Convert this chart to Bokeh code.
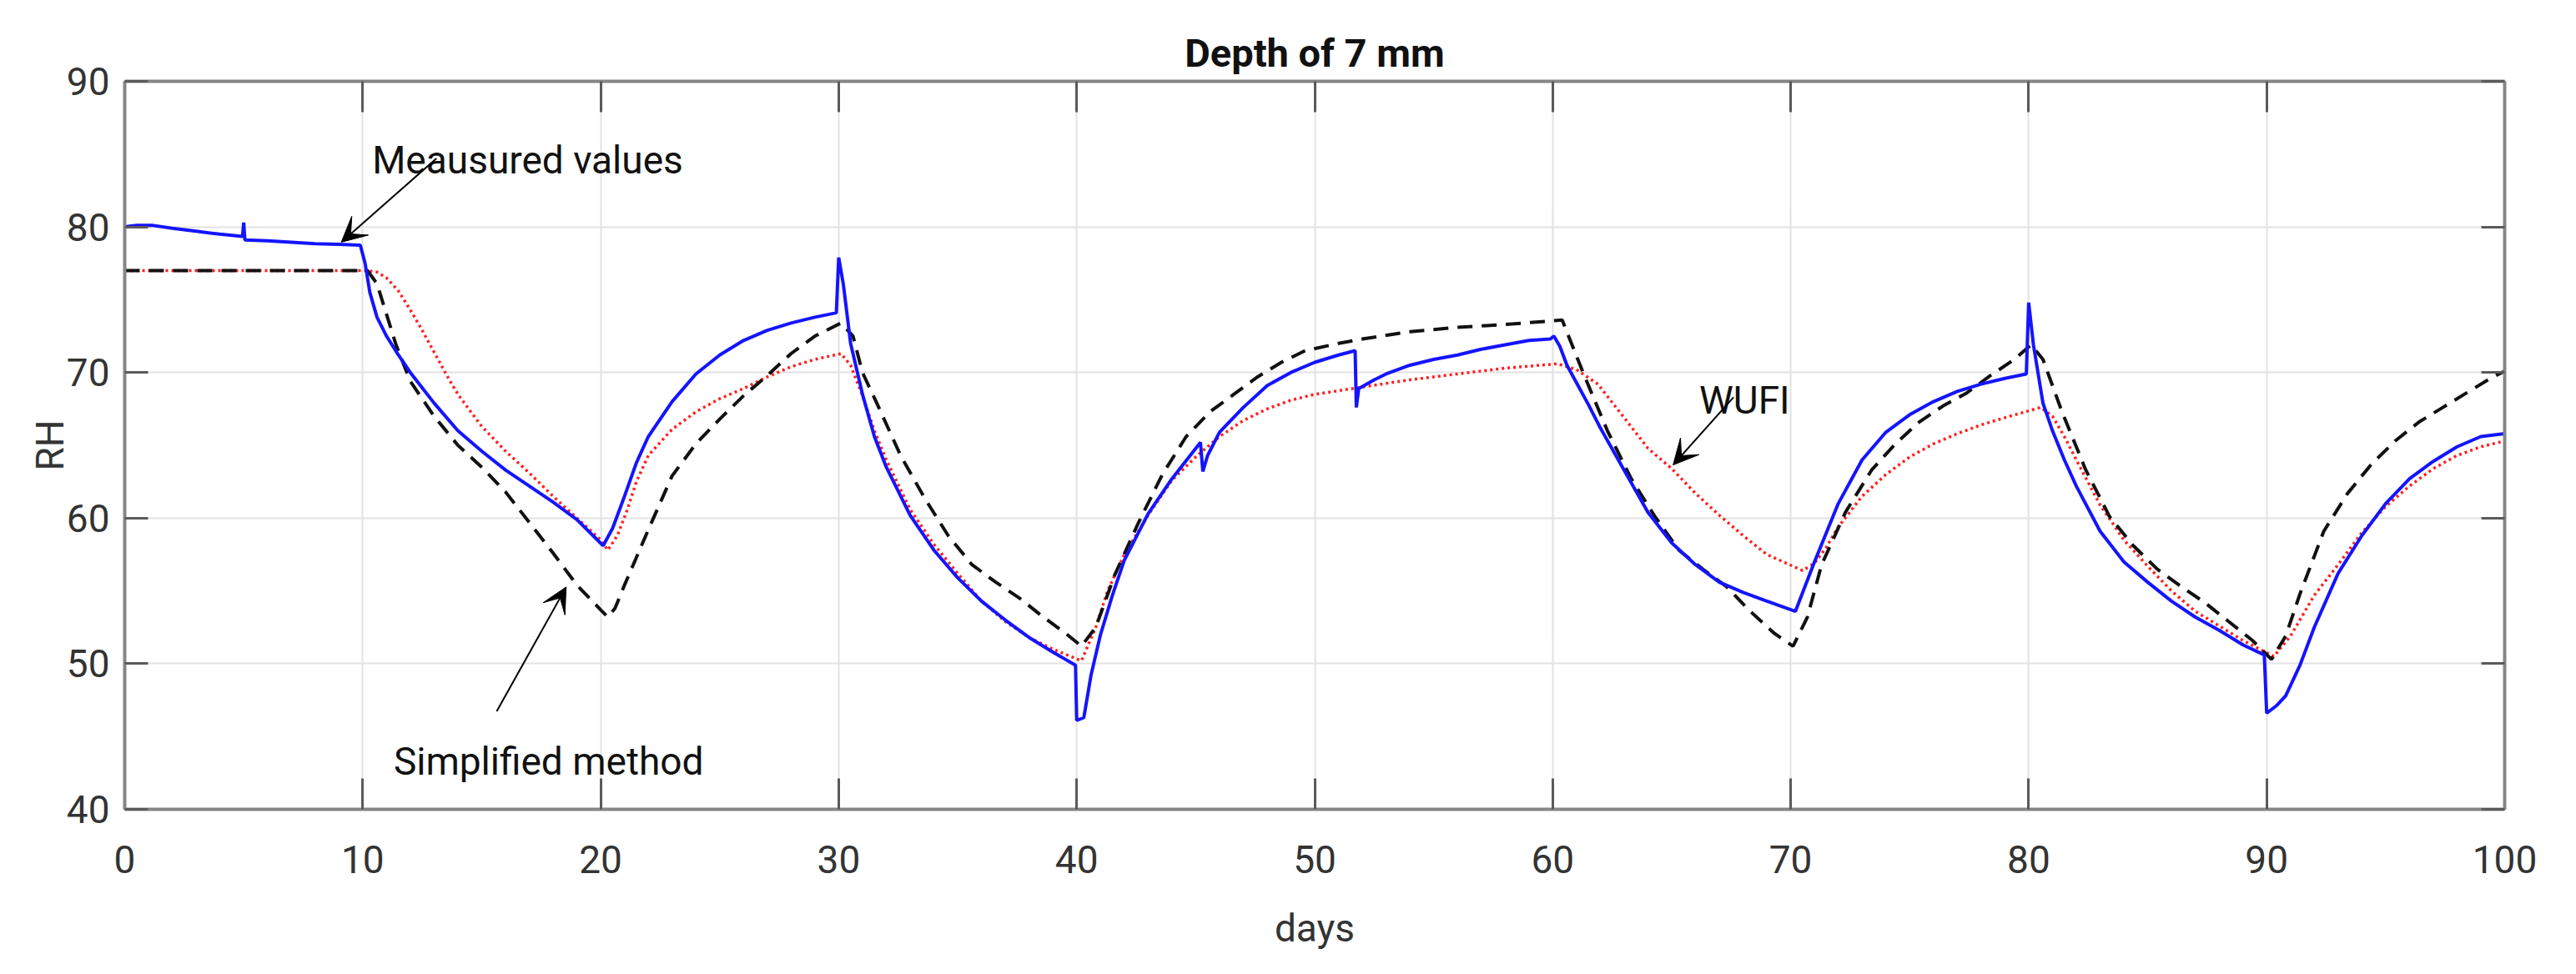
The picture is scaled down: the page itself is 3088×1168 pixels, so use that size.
from bokeh.plotting import figure
from bokeh.models import (Range1d, FixedTicker, LinearAxis, CustomJSTickFormatter,
                          Label, Arrow, VeeHead)
from bokeh.embed import file_html
from bokeh.resources import INLINE

# ---------------- data ----------------
days_measured = [0, 0.5, 1.2, 2, 3, 4, 4.95, 5.0, 5.05, 6, 7, 8, 9, 9.9,
                 10.1, 10.3, 10.6, 11, 11.5, 12, 13, 14, 15, 16, 17, 18, 19, 19.8,
                 20.1, 20.5, 21, 21.5, 22, 23, 24, 25, 26, 27, 28, 29, 29.9,
                 30.0, 30.2, 30.5, 31, 31.5, 32, 33, 34, 35, 36, 37, 38, 39, 39.95,
                 40.0, 40.3, 40.6, 41, 41.5, 42, 43, 44, 45.2, 45.3, 45.5, 46, 47,
                 48, 49, 50, 51, 51.7, 51.75, 51.85, 52.5, 53, 54, 55, 56, 57, 58,
                 59, 59.9, 60.05, 60.3, 60.6, 61, 61.5, 62, 63, 64, 65, 66, 67, 68,
                 69, 70.2, 71, 71.5, 72, 73, 74, 75, 76, 77, 78, 79, 79.9,
                 80.0, 80.2, 80.6, 81, 81.5, 82, 83, 84, 85, 86, 87, 88, 89, 89.9,
                 90.0, 90.4, 90.8, 91.4, 92, 93, 94, 95, 96, 97, 98, 99, 100]
rh_measured = [80.0, 80.1, 80.1, 79.9, 79.7, 79.5, 79.35, 80.3, 79.1, 79.05, 78.95, 78.85, 78.8, 78.75,
               77.5, 75.5, 73.8, 72.5, 71.2, 70.0, 67.9, 66.0, 64.6, 63.3, 62.2, 61.1, 59.9, 58.6,
               58.1, 59.3, 61.5, 63.8, 65.6, 68.0, 69.9, 71.2, 72.2, 72.9, 73.4, 73.8, 74.1,
               77.9, 76.0, 72.0, 68.5, 65.6, 63.5, 60.2, 57.8, 55.9, 54.3, 53.0, 51.8, 50.8, 49.9,
               46.1, 46.3, 49.2, 52.0, 54.7, 57.1, 60.3, 62.7, 65.2, 63.2, 64.3, 65.9, 67.6,
               69.1, 70.0, 70.7, 71.2, 71.5, 67.6, 68.9, 69.5, 69.9, 70.5, 70.9, 71.2, 71.6, 71.9,
               72.2, 72.3, 72.5, 71.8, 70.5, 69.3, 67.8, 66.2, 63.3, 60.4, 58.3, 56.8, 55.6, 54.9,
               54.3, 53.6, 57.0, 59.0, 61.0, 64.0, 65.9, 67.1, 68.0, 68.7, 69.2, 69.6, 69.9,
               74.8, 71.9, 67.9, 66.0, 64.0, 62.2, 59.1, 57.0, 55.6, 54.3, 53.2, 52.3, 51.3, 50.6,
               46.6, 47.1, 47.8, 49.9, 52.5, 56.2, 58.8, 61.0, 62.7, 63.9, 64.9, 65.6, 65.8]

days_wufi = [0, 10.2, 10.6, 11, 11.5, 12, 12.5, 13, 13.5, 14, 15, 16, 17, 18, 19, 20, 20.3,
             20.7, 21.1, 21.5, 22, 23, 24, 25, 26, 27, 28, 29, 30.1, 30.5, 31, 31.5, 32, 33,
             34, 35, 36, 37, 38, 39, 40.2, 40.8, 41.3, 42, 43, 44, 45, 46, 47, 48, 49, 50,
             52, 54, 56, 58, 60.2, 61, 61.9, 63, 64, 65, 66, 67, 68, 69, 70.5, 71, 71.5, 72,
             73, 74, 75, 76, 77, 78, 79, 80.5, 81, 81.5, 82, 83, 84, 85, 86, 87, 88, 89, 90.3,
             91, 91.5, 92, 93, 94, 95, 96, 97, 98, 99, 100]
rh_wufi = [77.0, 77.0, 76.9, 76.5, 75.6, 74.3, 72.9, 71.4, 69.9, 68.5, 66.3, 64.6, 63.1, 61.5, 60.0, 58.5, 57.8,
           58.8, 60.5, 62.5, 64.3, 66.1, 67.3, 68.2, 68.9, 69.7, 70.4, 70.9, 71.3, 70.5, 68.4, 66.0, 64.0, 60.6,
           58.2, 56.2, 54.3, 52.9, 51.8, 51.0, 50.2, 52.5, 55.0, 57.5, 60.2, 62.6, 64.2, 65.6, 66.7, 67.5, 68.1, 68.5,
           69.0, 69.5, 69.9, 70.3, 70.6, 70.2, 69.2, 66.9, 64.8, 63.4, 61.7, 60.2, 58.8, 57.5, 56.4, 56.9, 58.0, 59.4,
           61.5, 63.0, 64.2, 65.1, 65.8, 66.4, 66.9, 67.6, 67.0, 65.6, 64.0, 60.9, 58.5, 56.7, 55.0, 53.6, 52.6, 51.6, 50.5,
           51.9, 53.3, 54.7, 56.8, 59.0, 60.8, 62.2, 63.4, 64.3, 64.9, 65.3]

days_simplified = [0, 10.2, 10.6, 11, 11.4, 12, 13, 14, 15, 16, 17, 18, 19, 20, 20.3, 20.6, 21,
                   21.5, 22, 23, 24, 25, 26, 27, 28, 29, 30.1, 30.6, 31, 31.6, 32.6, 33.6, 34.6,
                   35.6, 36.6, 37.6, 38.6, 39.6, 40.2, 40.8, 41.6, 42.6, 43.6, 44.6, 45.6, 46.6,
                   47.6, 48.6, 49.6, 51, 52, 54, 56, 58, 60.4, 61.3, 62.3, 63.3, 64.3, 65.3, 66.3,
                   67.3, 68.3, 69.3, 70.1, 70.7, 71.3, 72.3, 73.4, 74.4, 75.4, 76.4, 77.4, 78.4,
                   79.4, 80.1, 80.6, 81.4, 82.4, 83.4, 84.4, 85.4, 86.4, 87.4, 88.4, 89.4, 90.2,
                   90.8, 91.4, 92.4, 93.4, 94.4, 95.4, 96.4, 97.4, 98.4, 99.4, 100]
rh_simplified = [77.0, 77.0, 76.1, 74.0, 71.9, 69.4, 67.0, 65.0, 63.5, 61.8, 59.7, 57.6, 55.4, 53.7, 53.2, 53.8, 55.4,
                 57.3, 59.2, 62.9, 65.1, 66.8, 68.4, 69.8, 71.3, 72.5, 73.4, 72.5, 70.0, 67.9, 64.3, 61.4, 58.8,
                 56.8, 55.6, 54.5, 53.2, 52.0, 51.2, 52.5, 56.1, 59.7, 63.0, 65.6, 67.3, 68.5,
                 69.7, 70.7, 71.5, 72.0, 72.3, 72.8, 73.1, 73.3, 73.6, 69.9, 66.0, 62.7, 60.1, 57.8, 56.5,
                 55.3, 53.6, 52.1, 51.2, 53.2, 56.8, 60.4, 63.3, 65.1, 66.6, 67.7, 68.6, 69.8,
                 70.9, 71.9, 70.9, 67.3, 63.3, 60.1, 58.1, 56.5, 55.3, 54.2, 52.9, 51.6, 50.3,
                 51.9, 54.8, 59.1, 61.7, 63.7, 65.3, 66.6, 67.6, 68.6, 69.6, 70.1]

x_ticks = [0, 10, 20, 30, 40, 50, 60, 70, 80, 90, 100]
y_ticks = [40, 50, 60, 70, 80, 90]

title_text = "Depth of 7 mm"
x_label = "days"
y_label = "RH"

# ---------------- styling ----------------
FONT = "Roboto"
FS = "46px"
AXIS_GRAY = "#868686"
TICK_GRAY = "#5a5a5a"
LABEL_GRAY = "#333333"

p = figure(width=3072, height=1152, output_backend="svg", toolbar_location=None,
           x_range=Range1d(0, 100), y_range=Range1d(40, 90),
           min_border_left=149, min_border_right=70, min_border_top=97, min_border_bottom=182,
           title=title_text)
p.background_fill_color = "white"
p.border_fill_color = "white"
p.outline_line_color = None

p.title.text_font = FONT
p.title.text_font_size = "47px"
p.title.text_font_style = "bold"
p.title.text_color = "#111111"
p.title.align = "center"
p.title.standoff = 14

xt = FixedTicker(ticks=x_ticks)
yt = FixedTicker(ticks=y_ticks)

for ax in p.xaxis:
    ax.ticker = xt
    ax.axis_label = x_label
for ax in p.yaxis:
    ax.ticker = yt
    ax.axis_label = y_label

def style_axis(ax, tick_in):
    ax.axis_line_color = AXIS_GRAY
    ax.axis_line_width = 4
    ax.major_tick_line_color = TICK_GRAY
    ax.major_tick_line_width = 3
    ax.major_tick_in = tick_in
    ax.major_tick_out = 0
    ax.minor_tick_line_color = None
    ax.major_label_text_font = FONT
    ax.major_label_text_font_size = FS
    ax.major_label_text_color = LABEL_GRAY
    ax.axis_label_text_font = FONT
    ax.axis_label_text_font_size = FS
    ax.axis_label_text_font_style = "normal"
    ax.axis_label_text_color = LABEL_GRAY

for ax in p.xaxis:
    style_axis(ax, 37)
    ax.major_label_standoff = 43
    ax.axis_label_standoff = 36
for ax in p.yaxis:
    style_axis(ax, 28)
    ax.major_label_standoff = 18
    ax.axis_label_standoff = -10

empty = CustomJSTickFormatter(code="return ''")
top_axis = LinearAxis(ticker=FixedTicker(ticks=x_ticks), formatter=empty)
style_axis(top_axis, 37)
top_axis.major_label_text_font_size = "1px"
top_axis.major_label_standoff = 0
p.add_layout(top_axis, "above")
right_axis = LinearAxis(ticker=FixedTicker(ticks=y_ticks), formatter=empty)
style_axis(right_axis, 28)
right_axis.major_label_text_font_size = "1px"
right_axis.major_label_standoff = 0
p.add_layout(right_axis, "right")

p.xgrid.ticker = xt
p.ygrid.ticker = yt
for g in (p.xgrid, p.ygrid):
    g.grid_line_color = "#e2e2e2"
    g.grid_line_width = 2

# ---------------- series ----------------
p.line(days_wufi, rh_wufi, line_color="#ff2020", line_width=3.5, line_dash="3 4")
p.line(days_simplified, rh_simplified, line_color="#111111", line_width=4, line_dash="18 11")
p.line(days_measured, rh_measured, line_color="#1414ff", line_width=4)

# ---------------- annotations ----------------
def note(x, y, txt):
    p.add_layout(Label(x=x, y=y, text=txt, text_font=FONT, text_font_size=FS,
                       text_color="#111111", text_baseline="alphabetic", text_align="left"))

def arrow(x0, y0, x1, y1):
    p.add_layout(Arrow(x_start=x0, y_start=y0, x_end=x1, y_end=y1,
                       line_color="black", line_width=2,
                       end=VeeHead(size=30, fill_color="black", line_color="black", line_width=1)))

note(10.4, 84.56, "Meausured values")
arrow(13.1, 84.7, 9.1, 78.95)
note(11.3, 43.32, "Simplified method")
arrow(15.63, 46.73, 18.55, 55.27)
note(66.16, 68.09, "WUFI")
arrow(67.6, 68.3, 65.06, 63.65)

open("out.html", "w").write(file_html(p, INLINE))
